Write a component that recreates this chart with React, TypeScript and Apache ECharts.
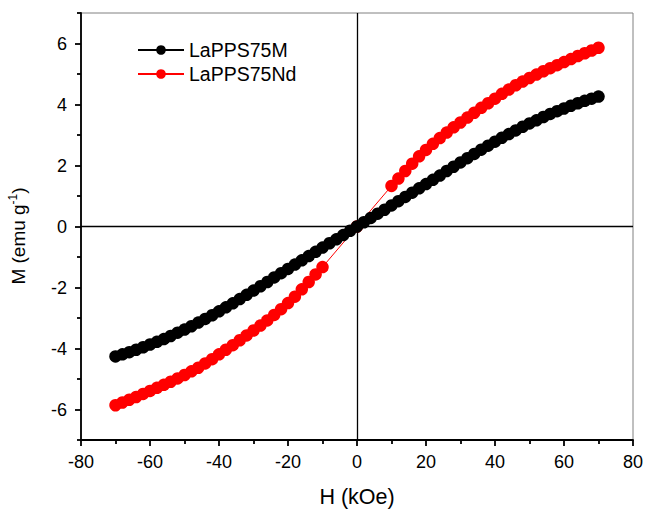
import React, { useEffect, useRef } from "react";
import * as echarts from "echarts";

const hValues = [
  -70, -68, -66, -64, -62, -60, -58, -56, -54, -52, -50, -48, -46, -44, -42, -40, -38, -36,
  -34, -32, -30, -28, -26, -24, -22, -20, -18, -16, -14, -12, -10, -8, -6, -4, -2, 0,
  2, 4, 6, 8, 10, 12, 14, 16, 18, 20, 22, 24, 26, 28, 30, 32, 34, 36,
  38, 40, 42, 44, 46, 48, 50, 52, 54, 56, 58, 60, 62, 64, 66, 68, 70,
];
const blackM = [
  -4.26, -4.19, -4.12, -4.04, -3.96, -3.87, -3.78, -3.69, -3.59, -3.48, -3.38, -3.27, -3.15, -3.03,
  -2.91, -2.78, -2.65, -2.52, -2.38, -2.24, -2.1, -1.96, -1.82, -1.67, -1.53, -1.39, -1.25, -1.11,
  -0.97, -0.83, -0.69, -0.55, -0.42, -0.28, -0.14, 0,
  0.14, 0.28, 0.42, 0.55, 0.69, 0.83, 0.97, 1.11, 1.25, 1.39, 1.53, 1.67, 1.82, 1.96, 2.1, 2.24,
  2.38, 2.52, 2.65, 2.78, 2.91, 3.03, 3.15, 3.27, 3.38, 3.48, 3.59, 3.69, 3.78, 3.87, 3.96, 4.04,
  4.12, 4.19, 4.26,
];
const redH = [
  -70, -68, -66, -64, -62, -60, -58, -56, -54, -52, -50, -48, -46, -44, -42, -40, -38, -36,
  -34, -32, -30, -28, -26, -24, -22, -20, -18, -16, -14, -12, -10, 0,
  10, 12, 14, 16, 18, 20, 22, 24, 26, 28, 30, 32, 34, 36, 38, 40, 42, 44, 46, 48, 50, 52, 54,
  56, 58, 60, 62, 64, 66, 68, 70,
];
const redM = [
  -5.86, -5.77, -5.68, -5.59, -5.49, -5.39, -5.29, -5.19, -5.09, -4.98, -4.87, -4.75, -4.63, -4.49,
  -4.35, -4.19, -4.04, -3.89, -3.73, -3.57, -3.41, -3.25, -3.08, -2.9, -2.71, -2.51, -2.3, -2.06,
  -1.82, -1.57, -1.33, 0,
  1.33, 1.57, 1.82, 2.06, 2.3, 2.51, 2.71, 2.9, 3.08, 3.25, 3.41, 3.57, 3.73, 3.89, 4.04, 4.19,
  4.35, 4.49, 4.63, 4.75, 4.87, 4.98, 5.09, 5.19, 5.29, 5.39, 5.49, 5.59, 5.68, 5.77, 5.86,
];
const yMajor = [-6, -4, -2, 0, 2, 4, 6];
const yMinor = [-7, -5, -3, -1, 1, 3, 5, 7];
const seriesNames = ["LaPPS75M", "LaPPS75Nd"];
const xTitle = "H (kOe)";
const yTitle = "{a|M (emu g}{s|-1}{a|)}";

const FONT = "Liberation Sans, Arial, sans-serif";

export default function App() {
  const ref = useRef<HTMLDivElement>(null);
  useEffect(() => {
    const chart = echarts.init(ref.current!, null, { renderer: "svg" });
    const blackData = hValues.map((h, i) => [h, blackM[i]]);
    const redData = redH.map((h, i) => [h, redM[i]]);
    const tickStyle = { color: "#000", width: 1.8 };
    chart.setOption({
      animation: false,
      backgroundColor: "#fff",
      grid: {
        left: 81,
        right: 16,
        top: 13,
        bottom: 72,
        show: true,
        borderColor: "#808080",
        borderWidth: 1,
        backgroundColor: "transparent",
      },
      legend: {
        data: seriesNames,
        left: 132,
        top: 35,
        orient: "vertical",
        itemWidth: 46,
        itemHeight: 12,
        itemGap: 4,
        textStyle: { fontFamily: FONT, fontSize: 19.5, color: "#000" },
      },
      graphic: [
        {
          type: "text",
          x: 18,
          y: 236,
          rotation: Math.PI / 2,
          silent: true,
          style: {
            text: yTitle,
            align: "center",
            verticalAlign: "middle",
            fill: "#000",
            fontFamily: FONT,
            fontSize: 19,
            rich: {
              a: { fontFamily: FONT, fontSize: 19, fill: "#000", color: "#000", lineHeight: 22 },
              s: { fontFamily: FONT, fontSize: 12, fill: "#000", color: "#000", verticalAlign: "top", lineHeight: 14 },
            },
          },
        },
      ],
      xAxis: {
        type: "value",
        min: -80,
        max: 80,
        interval: 20,
        name: xTitle,
        nameLocation: "middle",
        nameGap: 46,
        nameTextStyle: { fontFamily: FONT, fontSize: 21.5, color: "#000" },
        axisLine: { show: true, onZero: false, lineStyle: { color: "#000", width: 1.8 } },
        axisTick: { show: true, inside: false, length: 6, lineStyle: tickStyle },
        minorTick: { show: true, splitNumber: 2, length: 4, lineStyle: tickStyle },
        axisLabel: { fontFamily: FONT, fontSize: 18, color: "#000", margin: 13 },
        splitLine: { show: false },
        minorSplitLine: { show: false },
      },
      yAxis: [
        {
          type: "value",
          min: -7,
          max: 7,
          position: "left",
          axisLine: { show: true, onZero: false, lineStyle: { color: "#000", width: 1.8 } },
          axisTick: { show: true, inside: false, length: 6, customValues: yMajor, lineStyle: tickStyle },
          axisLabel: { fontFamily: FONT, fontSize: 18, color: "#000", margin: 14, customValues: yMajor },
          splitLine: { show: false },
        },
        {
          type: "value",
          min: -7,
          max: 7,
          position: "left",
          axisLine: { show: false, onZero: false },
          axisTick: { show: true, inside: false, length: 4, customValues: yMinor, lineStyle: tickStyle },
          axisLabel: { show: false },
          splitLine: { show: false },
        },
      ],
      series: [
        {
          type: "line",
          name: "zero",
          data: [],
          z: 1,
          silent: true,
          markLine: {
            silent: true,
            symbol: ["none", "none"],
            label: { show: false },
            lineStyle: { color: "#000", width: 1.3, type: "solid" },
            data: [{ xAxis: 0 }, { yAxis: 0 }],
          },
        },
        {
          type: "line",
          name: seriesNames[1],
          data: redData,
          z: 2,
          symbol: "circle",
          symbolSize: 12.5,
          showSymbol: true,
          itemStyle: { color: "#ff0000" },
          lineStyle: { color: "#ff0000", width: 1 },
        },
        {
          type: "line",
          name: seriesNames[0],
          data: blackData,
          z: 3,
          symbol: "circle",
          symbolSize: 12.5,
          showSymbol: true,
          itemStyle: { color: "#000" },
          lineStyle: { color: "#000", width: 1 },
        },
      ],
    });
    return () => chart.dispose();
  }, []);
  return (
    <div
      ref={ref}
      style={{ position: "fixed", left: 0, top: 0, width: 649, height: 513, background: "#fff" }}
    />
  );
}
